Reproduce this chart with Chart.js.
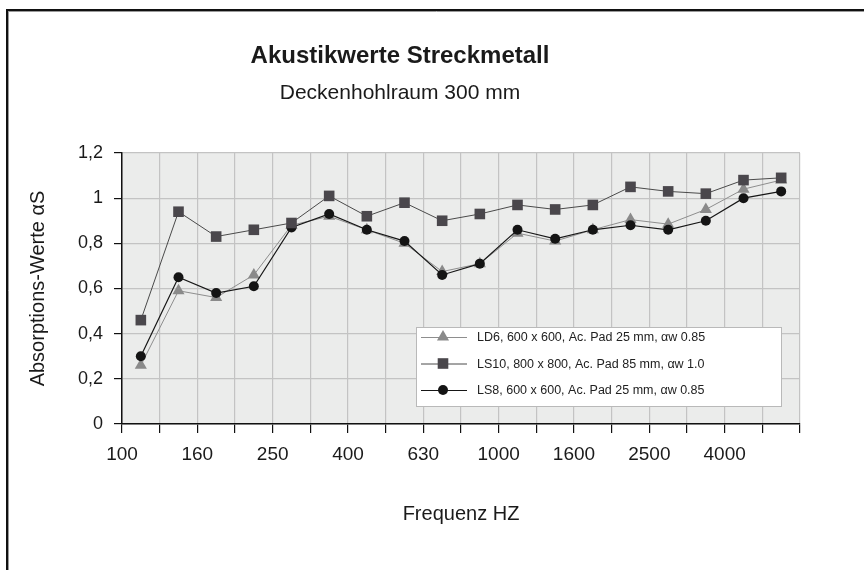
<!DOCTYPE html>
<html>
<head>
<meta charset="utf-8">
<script src="https://cdn.jsdelivr.net/npm/chart.js@4"></script>
<style>
  body { margin: 0; background: #fff; }
  #wrap { width: 864px; height: 570px; }
</style>
</head>
<body>
<div id="wrap"><canvas id="akustik" width="864" height="570"></canvas></div>
<script>
// Terzbaender (Kategorien), Werte je Band
const baender = ["100", "125", "160", "200", "250", "315", "400", "500", "630", "800",
  "1000", "1250", "1600", "2000", "2500", "3150", "4000", "5000"];
const werteLD6 = [0.26, 0.59, 0.56, 0.66, 0.88, 0.92, 0.86, 0.80, 0.675, 0.71,
  0.845, 0.81, 0.86, 0.905, 0.885, 0.95, 1.04, 1.08];
const werteLS10 = [0.46, 0.94, 0.83, 0.86, 0.89, 1.01, 0.92, 0.98, 0.90, 0.93,
  0.97, 0.95, 0.97, 1.05, 1.03, 1.02, 1.08, 1.09];
const werteLS8 = [0.30, 0.65, 0.58, 0.61, 0.87, 0.93, 0.86, 0.81, 0.66, 0.71,
  0.86, 0.82, 0.86, 0.88, 0.86, 0.90, 1.00, 1.03];
const namen = [
  "LD6, 600 x 600, Ac. Pad 25 mm, \u03b1w 0.85",
  "LS10, 800 x 800, Ac. Pad 85 mm, \u03b1w 1.0",
  "LS8, 600 x 600, Ac. Pad 25 mm, \u03b1w 0.85",
];
// Beschriftung an den Gitterlinien (Grenzen zwischen den Baendern)
const xTickLabels = ["100", "", "160", "", "250", "", "400", "", "630", "",
  "1000", "", "1600", "", "2500", "", "4000", "", ""];
const yTickLabels = ["0", "0,2", "0,4", "0,6", "0,8", "1", "1,2"];

const schrift = "'Liberation Sans', Arial, Helvetica, sans-serif";

function punkte(werte) {
  // jeder Wert sitzt in der Mitte seines Bandes
  return werte.map((y, i) => ({ x: i + 0.5, y: y, band: baender[i] }));
}

const hintergrund = {
  id: "hintergrund",
  beforeDraw(chart) {
    const c = chart.ctx, a = chart.chartArea;
    c.save();
    c.fillStyle = "#ebeceb";
    c.fillRect(a.left, a.top, a.right - a.left, a.bottom - a.top);
    c.restore();
  },
  afterDraw(chart) {
    const c = chart.ctx;
    // Rahmen oben/links wie im Original
    c.save();
    c.strokeStyle = "#9a9a9a";
    c.lineWidth = 1;
    c.beginPath();
    c.moveTo(9, 11.5); c.lineTo(864, 11.5);
    c.moveTo(8.5, 11); c.lineTo(8.5, 570);
    c.stroke();
    c.strokeStyle = "#111";
    c.lineWidth = 2;
    c.beginPath();
    c.moveTo(6, 10); c.lineTo(864, 10);
    c.moveTo(7, 9); c.lineTo(7, 570);
    c.stroke();
    c.restore();
  },
};

const legende = {
  id: "legende",
  afterDatasetsDraw(chart) {
    const c = chart.ctx;
    const x0 = 416, y0 = 327, w = 366, h = 80;
    c.save();
    c.fillStyle = "#ffffff";
    c.fillRect(x0, y0, w, h);
    c.strokeStyle = "#b9b9b9";
    c.lineWidth = 1;
    c.strokeRect(x0 + 0.5, y0 + 0.5, w - 1, h - 1);
    c.font = "12.5px " + schrift;
    c.textBaseline = "middle";
    chart.data.datasets.forEach((ds, i) => {
      const y = y0 + 10 + 26.5 * i;
      c.strokeStyle = ds.borderColor;
      c.lineWidth = 1;
      c.beginPath();
      c.moveTo(x0 + 5, y + 0.5);
      c.lineTo(x0 + 51, y + 0.5);
      c.stroke();
      c.fillStyle = ds.pointBackgroundColor;
      Chart.helpers.drawPoint(c, {
        pointStyle: ds.pointStyle, radius: ds.pointRadius, borderWidth: 0, rotation: 0,
      }, x0 + 27, y);
      c.fillStyle = "#222";
      c.fillText(ds.label, x0 + 61, y + 1);
    });
    c.restore();
  },
};

new Chart(document.getElementById("akustik"), {
  type: "line",
  data: {
    datasets: [
      {
        label: namen[0],
        data: punkte(werteLD6),
        borderColor: "#8e8e8e",
        borderWidth: 1,
        pointStyle: "triangle",
        pointRadius: 7,
        pointBackgroundColor: "#8a8a8a",
        pointBorderWidth: 0,
        order: 2,
      },
      {
        label: namen[1],
        data: punkte(werteLS10),
        borderColor: "#4a4a4a",
        borderWidth: 1,
        pointStyle: "rect",
        pointRadius: 7.5,
        pointBackgroundColor: "#4a474c",
        pointBorderWidth: 0,
        order: 0,
      },
      {
        label: namen[2],
        data: punkte(werteLS8),
        borderColor: "#161616",
        borderWidth: 1.2,
        pointStyle: "circle",
        pointRadius: 5,
        pointBackgroundColor: "#141414",
        pointBorderWidth: 0,
        order: 1,
      },
    ],
  },
  options: {
    responsive: false,
    animation: false,
    layout: { padding: { left: 0, right: 64, top: 0, bottom: 0 } },
    plugins: {
      legend: { display: false },
      tooltip: { enabled: false },
      title: {
        display: true,
        text: "Akustikwerte Streckmetall",
        color: "#1a1a1a",
        font: { family: schrift, size: 24, weight: "bold" },
        padding: { top: 42, bottom: 0 },
      },
      subtitle: {
        display: true,
        text: "Deckenhohlraum 300 mm",
        color: "#1a1a1a",
        font: { family: schrift, size: 21 },
        padding: { top: 10, bottom: 47 },
      },
    },
    scales: {
      x: {
        type: "linear",
        min: 0,
        max: 18,
        afterFit(s) { s.height = 146; },
        ticks: {
          stepSize: 1,
          maxTicksLimit: 20,
          autoSkip: false,
          maxRotation: 0,
          padding: 10,
          color: "#1a1a1a",
          font: { family: schrift, size: 19 },
          callback: (v) => xTickLabels[v],
        },
        grid: { color: "#c3c3c3", lineWidth: 1.2, tickColor: "#111", tickLength: 9 },
        border: { color: "#111", width: 1.5 },
        title: {
          display: true,
          text: "Frequenz HZ",
          color: "#1a1a1a",
          font: { family: schrift, size: 20 },
          padding: { top: 0, bottom: 44 },
        },
      },
      y: {
        min: 0,
        max: 1.2,
        afterFit(s) { s.width = 122; },
        ticks: {
          stepSize: 0.2,
          padding: 11,
          color: "#1a1a1a",
          font: { family: schrift, size: 18 },
          callback: (v, i) => yTickLabels[i],
        },
        grid: { color: "#c3c3c3", lineWidth: 1.2, tickColor: "#111", tickLength: 8 },
        border: { color: "#111", width: 1.5 },
        title: {
          display: true,
          text: "Absorptions-Werte \u03b1S",
          color: "#1a1a1a",
          font: { family: schrift, size: 20 },
          padding: { top: 26, bottom: 0 },
        },
      },
    },
  },
  plugins: [hintergrund, legende],
});
</script>
</body>
</html>
